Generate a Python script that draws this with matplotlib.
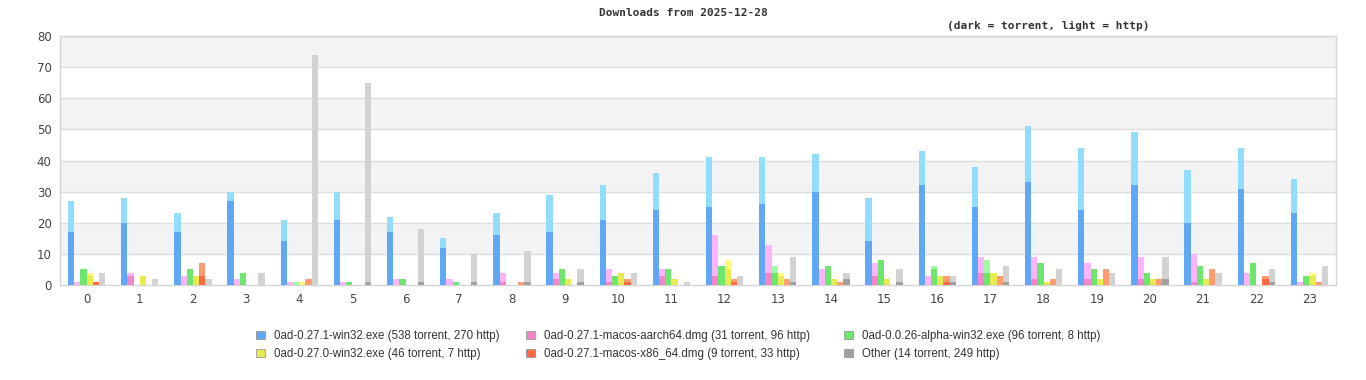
import numpy as np
import matplotlib
matplotlib.use("Agg")
import matplotlib.pyplot as plt
from matplotlib.patches import Patch


# data: downloads per hour, torrent part and total (torrent + http)
hours = list(range(24))

series_names = [
    "0ad-0.27.1-win32.exe (538 torrent, 270 http)",
    "0ad-0.27.1-macos-aarch64.dmg (31 torrent, 96 http)",
    "0ad-0.0.26-alpha-win32.exe (96 torrent, 8 http)",
    "0ad-0.27.0-win32.exe (46 torrent, 7 http)",
    "0ad-0.27.1-macos-x86_64.dmg (9 torrent, 33 http)",
    "Other (14 torrent, 249 http)",
]

win32_torrent = [17, 20, 17, 27, 14, 21, 17, 12, 16, 17, 21, 24, 25, 26, 30, 14, 32, 25, 33, 24, 32, 20, 31, 23]
win32_total = [27, 28, 23, 30, 21, 30, 22, 15, 23, 29, 32, 36, 41, 41, 42, 28, 43, 38, 51, 44, 49, 37, 44, 34]

aarch64_torrent = [0, 3, 0, 0, 0, 0, 0, 0, 1, 2, 1, 3, 3, 4, 0, 3, 0, 4, 2, 2, 2, 1, 0, 0]
aarch64_total = [1, 4, 3, 2, 1, 1, 2, 2, 4, 4, 5, 5, 16, 13, 5, 7, 3, 9, 9, 7, 9, 10, 4, 1]

alpha_torrent = [5, 0, 5, 4, 0, 1, 2, 1, 0, 5, 3, 5, 6, 4, 6, 8, 5, 4, 7, 5, 4, 6, 7, 3]
alpha_total = [5, 0, 5, 4, 1, 1, 2, 1, 0, 5, 3, 5, 6, 6, 6, 8, 6, 8, 7, 5, 4, 6, 7, 3]

w0270_torrent = [3, 3, 3, 0, 0, 0, 0, 0, 0, 2, 4, 2, 5, 3, 2, 2, 3, 4, 1, 2, 2, 2, 0, 3]
w0270_total = [4, 3, 3, 0, 1, 0, 0, 0, 0, 2, 4, 2, 8, 4, 2, 2, 3, 4, 1, 2, 2, 2, 0, 4]

x86_torrent = [1, 0, 3, 0, 0, 0, 0, 0, 0, 0, 1, 0, 1, 0, 0, 0, 1, 0, 0, 0, 0, 0, 2, 0]
x86_total = [1, 0, 7, 0, 2, 0, 0, 0, 1, 0, 2, 0, 2, 2, 1, 0, 3, 3, 2, 5, 2, 5, 3, 1]

other_torrent = [0, 0, 0, 0, 0, 1, 1, 1, 1, 1, 0, 0, 0, 1, 2, 1, 1, 1, 0, 0, 2, 0, 1, 0]
other_total = [4, 2, 2, 4, 74, 65, 18, 10, 11, 5, 4, 1, 3, 9, 4, 5, 3, 6, 5, 4, 9, 4, 5, 6]

torrent = [win32_torrent, aarch64_torrent, alpha_torrent, w0270_torrent, x86_torrent, other_torrent]
total = [win32_total, aarch64_total, alpha_total, w0270_total, x86_total, other_total]

dark_colors = ["#60a8f4", "#f484cc", "#6ce66c", "#e8ea52", "#ff6a44", "#a0a0a0"]
light_colors = ["#92dcfe", "#feb4fc", "#a0fca0", "#fcfc7c", "#ff9b70", "#d2d2d2"]

fig = plt.figure(figsize=(13.66, 3.8), dpi=100)
ax = fig.add_axes([60 / 1366, 1 - 285 / 380, 1276 / 1366, 249 / 380])

# alternating background bands
for lo in range(10, 80, 20):
    ax.axhspan(lo, lo + 10, color="#f3f3f3", zorder=0, lw=0)
for y in range(10, 80, 10):
    ax.axhline(y, color="#dddddd", lw=1, zorder=1)

x = np.arange(len(hours))
group_w = 0.7
bar_w = group_w / 6
for i in range(6):
    pos = x - group_w / 2 + (i + 0.5) * bar_w
    t = np.array(torrent[i])
    h = np.array(total[i]) - t
    ax.bar(pos, t, width=bar_w, color=dark_colors[i], lw=0, zorder=3)
    ax.bar(pos, h, bottom=t, width=bar_w, color=light_colors[i], lw=0, zorder=3)

ax.set_xlim(-0.5, 23.5)
ax.set_ylim(0, 80)
ax.set_yticks(range(0, 81, 10))
ax.set_xticks(x)
ax.set_xticklabels([str(hh) for hh in hours])
ax.tick_params(length=0, labelsize=8.5, colors="#444444", pad=6)
for s in ax.spines.values():
    s.set_color("#d4d4d4")
    s.set_linewidth(1)

fig.text(683 / 1366, 1 - 13 / 380, "Downloads from 2025-12-28", ha="center", va="center",
         family="DejaVu Sans Mono", weight="bold", fontsize=8, color="#333333")
fig.text(1048 / 1366, 1 - 26 / 380, "(dark = torrent, light = http)", ha="center", va="center",
         family="DejaVu Sans Mono", weight="bold", fontsize=8, color="#333333")

# legend: one column per fig.legend so the columns sit where they do in the original
handles = [Patch(facecolor=dark_colors[i], edgecolor="#999999", lw=0.6) for i in range(6)]
col_x = [256, 526, 844]
for c in range(3):
    idx = [c, c + 3]
    fig.legend([handles[k] for k in idx], [series_names[k] for k in idx],
               loc="center left", bbox_to_anchor=(col_x[c] / 1366, 1 - 345 / 380),
               frameon=False, borderpad=0, borderaxespad=0,
               prop={"family": "Liberation Sans", "size": 8.3},
               handlelength=0.75, handleheight=0.75, handletextpad=0.8,
               labelspacing=0.55, labelcolor="#333333")

fig.savefig("out.png", dpi=100)
